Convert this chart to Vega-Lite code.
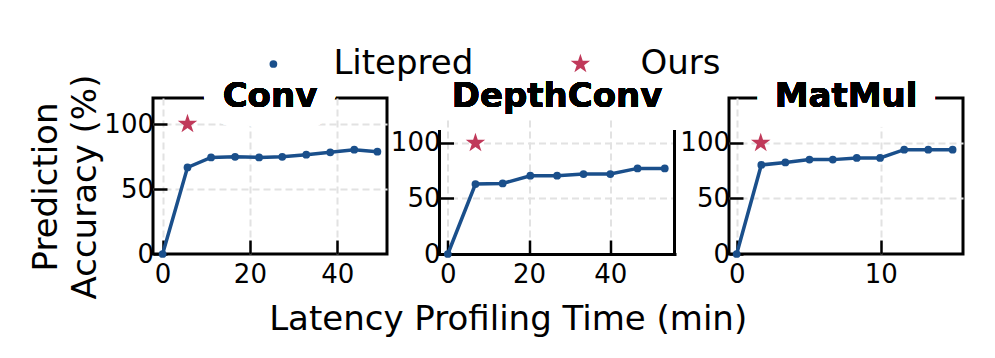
{
  "$schema": "https://vega.github.io/schema/vega-lite/v6.json",
  "background": "white",
  "padding": {"left": 27, "top": 47, "right": 5, "bottom": 5},
  "spacing": 0.5,
  "title": {
    "text": "Latency Profiling Time (min)",
    "orient": "bottom",
    "anchor": "middle",
    "frame": "bounds",
    "font": "DejaVu Sans",
    "fontSize": 34,
    "fontWeight": "normal",
    "color": "black",
    "offset": 3,
    "dx": 12
  },
  "config": {
    "font": "DejaVu Sans",
    "view": {"stroke": "black", "strokeWidth": 3},
    "axis": {
      "labelFont": "DejaVu Sans", "labelFontSize": 26, "labelColor": "black",
      "tickColor": "black", "tickWidth": 2.5, "tickSize": -14,
      "domain": false, "domainColor": "black", "domainWidth": 3, "domainCap": "square",
      "grid": true, "gridColor": "#e2e2e2", "gridDash": [7, 4], "gridWidth": 2,
      "titleFont": "DejaVu Sans", "titleFontSize": 34, "titleFontWeight": "normal", "titleColor": "black"
    },
    "axisX": {"labelPadding": 21},
    "axisY": {"labelPadding": 13.5, "gridOpacity": {"condition": {"test": "datum.value === 0", "value": 0}, "value": 1}},
    "legend": {
      "orient": "none", "direction": "horizontal", "title": null,
      "labelFont": "DejaVu Sans", "labelFontSize": 34, "labelColor": "black",
      "labelOffset": 43, "columnPadding": 90, "padding": 0, "symbolStrokeWidth": 0
    }
  },
  "datasets": {
    "acc": [
      {"panel": "Conv", "method": "Litepred", "time": 0, "acc": 0},
      {"panel": "Conv", "method": "Litepred", "time": 5.7, "acc": 66.6},
      {"panel": "Conv", "method": "Litepred", "time": 11.1, "acc": 74.3},
      {"panel": "Conv", "method": "Litepred", "time": 16.6, "acc": 74.8},
      {"panel": "Conv", "method": "Litepred", "time": 22.1, "acc": 74.3},
      {"panel": "Conv", "method": "Litepred", "time": 27.4, "acc": 74.8},
      {"panel": "Conv", "method": "Litepred", "time": 32.9, "acc": 76.4},
      {"panel": "Conv", "method": "Litepred", "time": 38.4, "acc": 78.2},
      {"panel": "Conv", "method": "Litepred", "time": 43.9, "acc": 80.2},
      {"panel": "Conv", "method": "Litepred", "time": 49.2, "acc": 78.7},
      {"panel": "Conv", "method": "Ours", "time": 5.7, "acc": 100},
      {"panel": "DepthConv", "method": "Litepred", "time": 0, "acc": 0},
      {"panel": "DepthConv", "method": "Litepred", "time": 6.8, "acc": 63},
      {"panel": "DepthConv", "method": "Litepred", "time": 13.5, "acc": 63.5},
      {"panel": "DepthConv", "method": "Litepred", "time": 20.3, "acc": 70.5},
      {"panel": "DepthConv", "method": "Litepred", "time": 26.9, "acc": 70.5},
      {"panel": "DepthConv", "method": "Litepred", "time": 33.4, "acc": 72},
      {"panel": "DepthConv", "method": "Litepred", "time": 40, "acc": 72},
      {"panel": "DepthConv", "method": "Litepred", "time": 46.7, "acc": 77.1},
      {"panel": "DepthConv", "method": "Litepred", "time": 53.4, "acc": 77.1},
      {"panel": "DepthConv", "method": "Ours", "time": 6.8, "acc": 100},
      {"panel": "MatMul", "method": "Litepred", "time": 0, "acc": 0},
      {"panel": "MatMul", "method": "Litepred", "time": 1.71, "acc": 80.2},
      {"panel": "MatMul", "method": "Litepred", "time": 3.38, "acc": 82.5},
      {"panel": "MatMul", "method": "Litepred", "time": 5.05, "acc": 85},
      {"panel": "MatMul", "method": "Litepred", "time": 6.67, "acc": 85},
      {"panel": "MatMul", "method": "Litepred", "time": 8.33, "acc": 86.5},
      {"panel": "MatMul", "method": "Litepred", "time": 9.95, "acc": 86.5},
      {"panel": "MatMul", "method": "Litepred", "time": 11.62, "acc": 94},
      {"panel": "MatMul", "method": "Litepred", "time": 13.29, "acc": 94},
      {"panel": "MatMul", "method": "Litepred", "time": 14.98, "acc": 94},
      {"panel": "MatMul", "method": "Ours", "time": 1.67, "acc": 100}
    ]
  },
  "hconcat": [
    {
      "width": 234, "height": 156,
      "data": {"name": "acc"},
      "transform": [{"filter": "datum.panel === 'Conv'"}],
      "encoding": {
        "x": {"field": "time", "type": "quantitative", "scale": {"domain": [-2.2, 51.4], "nice": false, "zero": false}, "axis": {"values": [0, 20, 40], "title": null}},
        "y": {"field": "acc", "type": "quantitative", "scale": {"domain": [0, 120], "nice": false}, "axis": {"values": [0, 50, 100], "title": ["Prediction", "Accuracy (%)"], "titleX": -96.7, "titleY": 88.5, "titleBaseline": "alphabetic", "titleAlign": "center", "titleLineHeight": 39.4, "titleAngle": 270}}
      },
      "layer": [
        {
          "mark": {"type": "text", "text": "Conv", "font": "DejaVu Sans", "fontWeight": "bold", "fontSize": 34, "baseline": "alphabetic", "align": "center", "dy": 9, "fill": "white", "stroke": "white", "strokeWidth": 40, "strokeJoin": "round"},
          "encoding": {"x": {"datum": 24.6, "type": "quantitative"}, "y": {"datum": 120, "type": "quantitative"}}
        },
        {
          "transform": [{"filter": "datum.method === 'Litepred'"}],
          "mark": {"type": "line", "color": "#1a4f8b", "strokeWidth": 3.5}
        },
        {
          "mark": {"type": "point", "filled": true, "opacity": 1},
          "encoding": {
            "color": {"field": "method", "type": "nominal", "scale": {"domain": ["Litepred", "Ours"], "range": ["#1a4f8b", "#c0395a"]}, "legend": {"orient": "none", "legendX": 103.4, "legendY": -51}},
            "shape": {"field": "method", "type": "nominal", "scale": {"domain": ["Litepred", "Ours"], "range": ["circle", "M0,-1L0.2245,-0.309L0.9511,-0.309L0.3633,0.118L0.5878,0.809L0,0.382L-0.5878,0.809L-0.3633,0.118L-0.9511,-0.309L-0.2245,-0.309Z"]}},
            "size": {"field": "method", "type": "nominal", "scale": {"domain": ["Litepred", "Ours"], "range": [60, 420]}}
          }
        },
        {
          "mark": {"type": "text", "text": "Conv", "font": "DejaVu Sans", "fontWeight": "bold", "fontSize": 34, "baseline": "alphabetic", "align": "center", "dy": 9, "fill": "black"},
          "encoding": {"x": {"datum": 24.6, "type": "quantitative"}, "y": {"datum": 120, "type": "quantitative"}}
        }
      ]
    },
    {
      "width": 235, "height": 156,
      "view": {"stroke": null},
      "data": {"name": "acc"},
      "transform": [{"filter": "datum.panel === 'DepthConv'"}],
      "encoding": {
        "x": {"field": "time", "type": "quantitative", "scale": {"domain": [-2.05, 55.8], "nice": false, "zero": false}, "axis": {"values": [0, 20, 40], "domain": true, "title": null}},
        "y": {"field": "acc", "type": "quantitative", "scale": {"domain": [0, 140.5], "nice": false}, "axis": {"values": [0, 50, 100], "title": null}}
      },
      "layer": [
        {
          "mark": {"type": "text", "text": "DepthConv", "font": "DejaVu Sans", "fontWeight": "bold", "fontSize": 34, "baseline": "alphabetic", "align": "center", "dy": 9, "fill": "white", "stroke": "white", "strokeWidth": 26, "strokeJoin": "round"},
          "encoding": {"x": {"datum": 26.9, "type": "quantitative"}, "y": {"datum": 140.5, "type": "quantitative"}}
        },
        {
          "mark": {"type": "rule", "color": "black", "strokeWidth": 3, "strokeCap": "square"},
          "encoding": {"x": {"datum": -2.05, "type": "quantitative"}, "y": {"datum": 0, "type": "quantitative"}, "y2": {"datum": 110}}
        },
        {
          "mark": {"type": "rule", "color": "black", "strokeWidth": 3, "strokeCap": "square"},
          "encoding": {"x": {"datum": 55.8, "type": "quantitative"}, "y": {"datum": 0, "type": "quantitative"}, "y2": {"datum": 110}}
        },
        {
          "transform": [{"filter": "datum.method === 'Litepred'"}],
          "mark": {"type": "line", "color": "#1a4f8b", "strokeWidth": 3.5}
        },
        {
          "mark": {"type": "point", "filled": true, "opacity": 1},
          "encoding": {
            "color": {"field": "method", "type": "nominal", "scale": {"domain": ["Litepred", "Ours"], "range": ["#1a4f8b", "#c0395a"]}},
            "shape": {"field": "method", "type": "nominal", "scale": {"domain": ["Litepred", "Ours"], "range": ["circle", "M0,-1L0.2245,-0.309L0.9511,-0.309L0.3633,0.118L0.5878,0.809L0,0.382L-0.5878,0.809L-0.3633,0.118L-0.9511,-0.309L-0.2245,-0.309Z"]}},
            "size": {"field": "method", "type": "nominal", "scale": {"domain": ["Litepred", "Ours"], "range": [60, 420]}}
          }
        },
        {
          "mark": {"type": "text", "text": "DepthConv", "font": "DejaVu Sans", "fontWeight": "bold", "fontSize": 34, "baseline": "alphabetic", "align": "center", "dy": 9, "fill": "black"},
          "encoding": {"x": {"datum": 26.9, "type": "quantitative"}, "y": {"datum": 140.5, "type": "quantitative"}}
        }
      ]
    },
    {
      "width": 234, "height": 156,
      "data": {"name": "acc"},
      "transform": [{"filter": "datum.panel === 'MatMul'"}],
      "encoding": {
        "x": {"field": "time", "type": "quantitative", "scale": {"domain": [-0.53, 15.7], "nice": false, "zero": false}, "axis": {"values": [0, 10], "title": null}},
        "y": {"field": "acc", "type": "quantitative", "scale": {"domain": [0, 140.5], "nice": false}, "axis": {"values": [0, 50, 100], "title": null}}
      },
      "layer": [
        {
          "mark": {"type": "text", "text": "MatMul", "font": "DejaVu Sans", "fontWeight": "bold", "fontSize": 34, "baseline": "alphabetic", "align": "center", "dy": 9, "fill": "white", "stroke": "white", "strokeWidth": 40, "strokeJoin": "round"},
          "encoding": {"x": {"datum": 7.585, "type": "quantitative"}, "y": {"datum": 140.5, "type": "quantitative"}}
        },
        {
          "transform": [{"filter": "datum.method === 'Litepred'"}],
          "mark": {"type": "line", "color": "#1a4f8b", "strokeWidth": 3.5}
        },
        {
          "mark": {"type": "point", "filled": true, "opacity": 1},
          "encoding": {
            "color": {"field": "method", "type": "nominal", "scale": {"domain": ["Litepred", "Ours"], "range": ["#1a4f8b", "#c0395a"]}},
            "shape": {"field": "method", "type": "nominal", "scale": {"domain": ["Litepred", "Ours"], "range": ["circle", "M0,-1L0.2245,-0.309L0.9511,-0.309L0.3633,0.118L0.5878,0.809L0,0.382L-0.5878,0.809L-0.3633,0.118L-0.9511,-0.309L-0.2245,-0.309Z"]}},
            "size": {"field": "method", "type": "nominal", "scale": {"domain": ["Litepred", "Ours"], "range": [60, 420]}}
          }
        },
        {
          "mark": {"type": "text", "text": "MatMul", "font": "DejaVu Sans", "fontWeight": "bold", "fontSize": 34, "baseline": "alphabetic", "align": "center", "dy": 9, "fill": "black"},
          "encoding": {"x": {"datum": 7.585, "type": "quantitative"}, "y": {"datum": 140.5, "type": "quantitative"}}
        }
      ]
    }
  ]
}
